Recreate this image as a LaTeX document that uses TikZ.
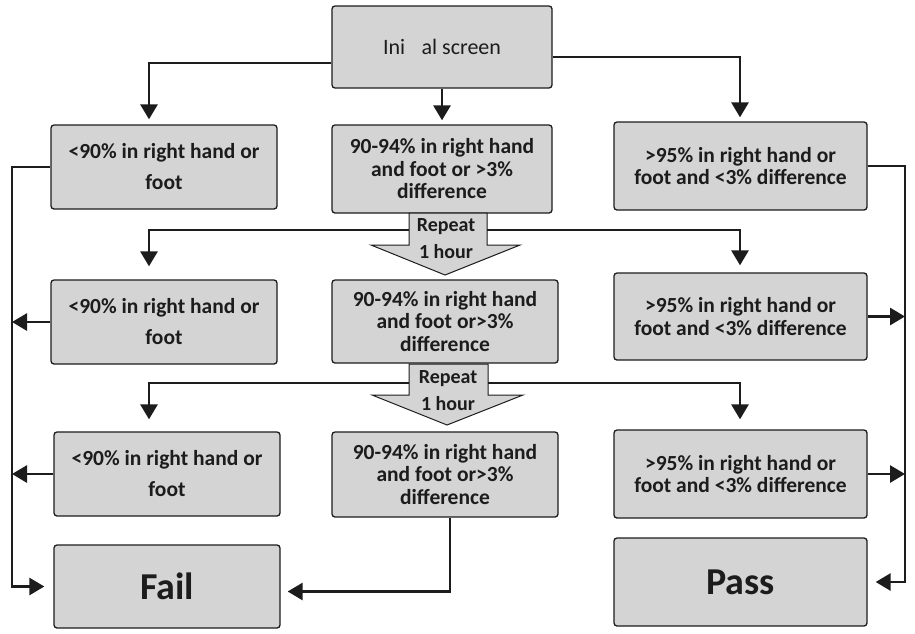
\documentclass[tikz,border=0pt]{standalone}
\usepackage{fontspec}
\setmainfont{Carlito}
\usetikzlibrary{arrows.meta}

\definecolor{boxgray}{RGB}{212,212,212}
\definecolor{inkdark}{RGB}{28,28,28}

\tikzset{
  box/.style={draw=inkdark, fill=boxgray, line width=1.3pt, rounded corners=3pt,
    align=center, inner sep=0pt, text=inkdark},
  smalltxt/.style={font=\bfseries\fontsize{21.5}{22.5}\selectfont},
  widetxt/.style={font=\bfseries\fontsize{21.5}{31}\selectfont},
  bigtxt/.style={font=\bfseries\fontsize{38}{40}\selectfont},
  reptxt/.style={font=\bfseries\fontsize{20}{27}\selectfont, align=center, text=inkdark},
  link/.style={draw=inkdark, line width=2.8pt},
  arr/.style={link, -{Triangle[length=15pt,width=17pt]}},
  repeatbox/.style={draw=inkdark, fill=boxgray, line width=1pt, line join=miter}
}

\begin{document}
\begin{tikzpicture}[x=1pt,y=-1pt]
        \useasboundingbox (0,0) rectangle (915,633);

        % start
        \node[box, minimum width=220pt, minimum height=82pt,
              font=\fontsize{22}{24}\selectfont] (init) at (442,47) {Ini\hspace{0.75em}al screen};

        % first screen
        \node[box, widetxt, minimum width=226pt, minimum height=84pt] (l1) at (164,167)
            {<90\% in right hand or\\foot};
        \node[box, smalltxt, minimum width=220pt, minimum height=88pt] (m1) at (442,169)
            {90-94\% in right hand\\and foot or >3\%\\difference};
        \node[box, smalltxt, minimum width=253pt, minimum height=88pt] (r1) at (740.5,166)
            {>95\% in right hand or\\foot and <3\% difference};

        % second screen
        \node[box, widetxt, minimum width=226pt, minimum height=84pt] (l2) at (164,322)
            {<90\% in right hand or\\foot};
        \node[box, smalltxt, minimum width=226pt, minimum height=83pt] (m2) at (445,321.5)
            {90-94\% in right hand\\and foot or>3\%\\difference};
        \node[box, smalltxt, minimum width=253pt, minimum height=87pt] (r2) at (740.5,316.5)
            {>95\% in right hand or\\foot and <3\% difference};

        % third screen
        \node[box, widetxt, minimum width=226pt, minimum height=84pt] (l3) at (167,474)
            {<90\% in right hand or\\foot};
        \node[box, smalltxt, minimum width=226pt, minimum height=85pt] (m3) at (445,474.5)
            {90-94\% in right hand\\and foot or>3\%\\difference};
        \node[box, smalltxt, minimum width=253pt, minimum height=88pt] (r3) at (740.5,474)
            {>95\% in right hand or\\foot and <3\% difference};

        % outcome
        \node[box, bigtxt, minimum width=226pt, minimum height=83pt] (fail) at (167,586.5) {Fail};
        \node[box, bigtxt, minimum width=253pt, minimum height=88pt] (pass) at (740.5,582) {Pass};

        % repeat arrows
        \draw[repeatbox] (409,213) -- (487,213) -- (487,245) -- (520,245) -- (445,275)
            -- (371,245) -- (409,245) -- cycle;
        \node[reptxt] (rep1) at (446,239) {Repeat\\1 hour};
        \draw[repeatbox] (409,364) -- (488,364) -- (488,395) -- (523,395) -- (447,425)
            -- (372,395) -- (409,395) -- cycle;
        \node[reptxt] (rep2) at (448,391) {Repeat\\1 hour};

        \coordinate (fork1l) at (409,230);
        \coordinate (fork1r) at (487,230);
        \coordinate (fork2l) at (409,383);
        \coordinate (fork2r) at (488,383);
        \coordinate (lrail) at (12,0);
        \coordinate (rrail) at (905,0);

        % from the start
        \draw[arr] ([yshift=-16pt]init.west) -| ([xshift=-15pt,yshift=5pt]l1.north);
        \draw[arr] (init.south) -- ([yshift=4pt]m1.north);
        \draw[arr] ([yshift=-10pt]init.east) -| ([xshift=-0.5pt,yshift=4pt]r1.north);

        % repeat forks
        \draw[arr] (fork1l) -| ([xshift=-15pt,yshift=13pt]l2.north);
        \draw[arr] (fork1r) -| ([xshift=-0.5pt,yshift=7pt]r2.north);
        \draw[arr] (fork2l) -| ([xshift=-18pt,yshift=12pt]l3.north);
        \draw[arr] (fork2r) -| ([xshift=-0.5pt,yshift=10pt]r3.north);

        % fail side
        \draw[arr] (l1.west) -| (lrail |- fail.west) -- ([xshift=-9pt]fail.west);
        \draw[arr] (l2.west) -- (l2.west -| lrail);
        \draw[arr] (l3.west) -- (l3.west -| lrail);
        \draw[arr] ([xshift=5pt]m3.south) |- ([xshift=7pt,yshift=-5pt]fail.east);

        % pass side
        \draw[arr] (r1.east) -| (rrail |- pass.east) -- ([xshift=8pt]pass.east);
        \draw[arr] (r2.east) -- (r2.east -| rrail);
        \draw[arr] (r3.east) -- (r3.east -| rrail);
    \end{tikzpicture}
\end{document}
